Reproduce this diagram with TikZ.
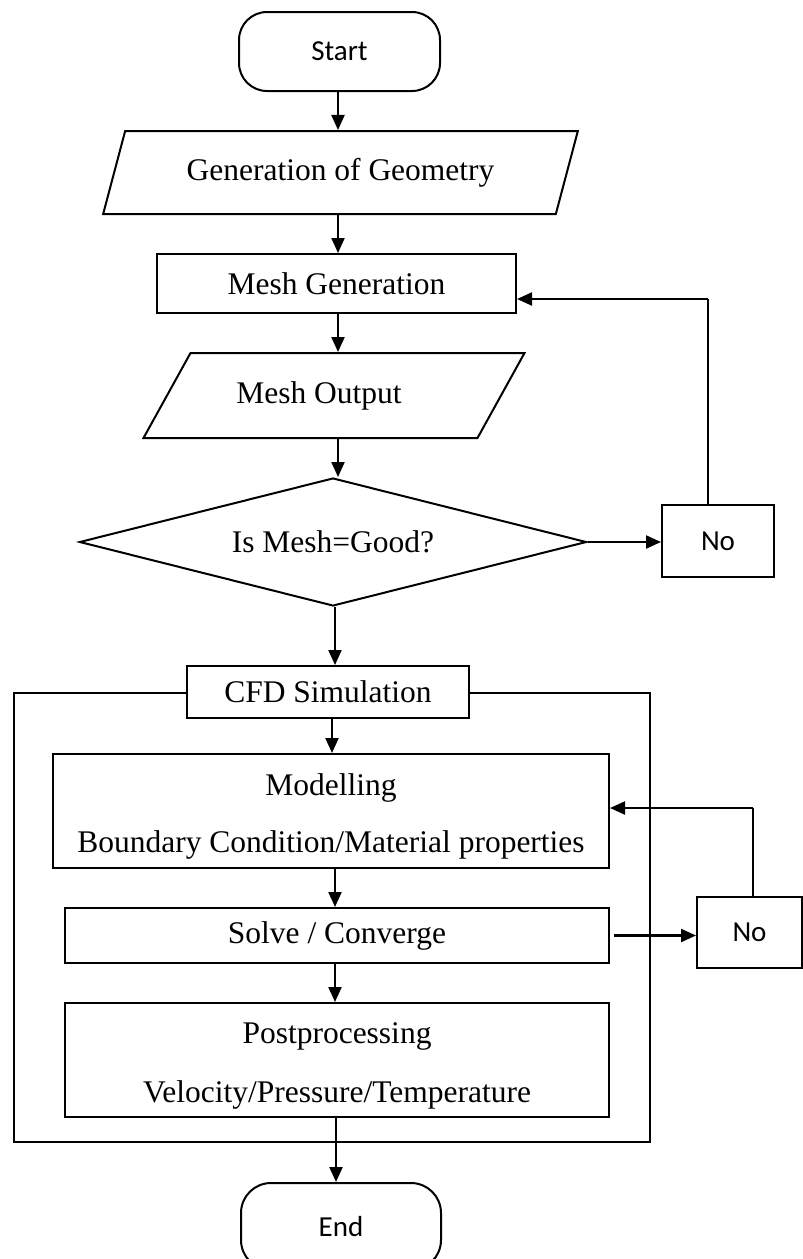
\documentclass[tikz,border=0pt]{standalone}
\usepackage{fontspec}
\setmainfont{Liberation Serif}
\newfontfamily\calib{Carlito}
\usetikzlibrary{shapes.geometric,arrows.meta,calc}
\tikzset{
  box/.style={draw, line width=2pt, fill=white, inner sep=0pt, align=center,
    font=\fontsize{31.5}{57}\selectfont},
  term/.style={draw, line width=2pt, fill=white, inner sep=0pt, rounded corners=28pt,
    font=\calib\fontsize{29}{34}\selectfont},
  nobox/.style={draw, line width=2pt, fill=white, inner sep=0pt,
    font=\calib\fontsize{29}{34}\selectfont},
  io/.style={trapezium, trapezium stretches=true, draw, line width=2pt, fill=white,
    inner sep=0pt, font=\fontsize{31.5}{57}\selectfont},
  dec/.style={diamond, draw, line width=2pt, fill=white, inner sep=0pt, shape aspect=3.96,
    font=\fontsize{31.5}{57}\selectfont},
  arr/.style={line width=2.2pt, -{Triangle[length=15pt,width=13pt]}},
  fbline/.style={line width=1.2pt},
}
\begin{document}
\begin{tikzpicture}[x=1pt,y=-1pt]
\useasboundingbox (0,0) rectangle (803,1259);
\clip (0,0) rectangle (803,1259);
% outer frame
\node[draw, line width=2pt, minimum width=636pt, minimum height=449pt, inner sep=0pt] (frame) at (332,917.5) {};
% nodes
\node[term, minimum width=201pt, minimum height=79pt] (start) at (339.5,51.5) {Start};
\node[io, trapezium left angle=61.5, trapezium right angle=118.5,
      minimum width=475pt, minimum height=83pt] (geo) at (340.5,172.5) {Generation of Geometry};
\node[box, minimum width=359pt, minimum height=59pt] (mesh) at (336.5,283.5) {Mesh Generation};
\node[io, trapezium left angle=41.75, trapezium right angle=138.25,
      minimum width=382pt, minimum height=85pt] (mout) at (334,395.5) {Mesh Output\hspace*{30pt}};
\node[dec, minimum width=507pt, minimum height=128pt] (dia) at (333,542) {Is Mesh=Good?};
\node[nobox, minimum width=112pt, minimum height=72pt] (no1) at (718,541) {No};
\node[box, minimum width=282pt, minimum height=52pt] (cfd) at (328,692) {CFD Simulation};
\node[box, minimum width=556pt, minimum height=114pt] (model) at (331,811)
  {\rule{0pt}{32pt}Modelling\\Boundary Condition/Material properties};
\node[box, minimum width=544pt, minimum height=55pt] (solve) at (337,935.5) {Solve / Converge};
\node[nobox, minimum width=105pt, minimum height=71pt] (no2) at (749.5,932.5) {No};
\node[box, minimum width=544pt, minimum height=114pt, font=\fontsize{31.5}{59}\selectfont] (post) at (337,1060)
  {\rule{0pt}{33.5pt}Postprocessing\\Velocity/Pressure/Temperature};
\node[term, minimum width=200pt, minimum height=87pt, rounded corners=30pt] (end) at (341,1226.5) {End};
% coordinates for connector columns
\coordinate (xa) at (338,0);
\coordinate (xb) at (335,0);
\coordinate (xc) at (332,0);
\coordinate (xd) at (336,0);
\coordinate (fb1) at (708,299);
\coordinate (fb2) at (753,808);
% connectors
\draw[arr] (start.south -| xa) -- (geo.north -| xa);
\draw[arr] (geo.south -| xa) -- (mesh.north -| xa);
\draw[arr] (mesh.south -| xa) -- (mout.north -| xa);
\draw[arr] (mout.south -| xa) -- (dia.north -| xa);
\draw[arr] (dia.east) -- (dia.east -| no1.west);
\draw[fbline] (no1.north -| fb1) -- (fb1);
\draw[arr] (fb1) -- (fb1 -| mesh.east);
\draw[arr] (dia.south -| xb) -- (cfd.north -| xb);
\draw[arr] (cfd.south -| xc) -- (model.north -| xc);
\draw[arr] (model.south -| xb) -- (solve.north -| xb);
\draw[arr] ([xshift=4pt]solve.east) -- (solve.east -| no2.west);
\draw[fbline] (no2.north -| fb2) -- (fb2);
\draw[arr] (fb2) -- (fb2 -| model.east);
\draw[arr] (solve.south -| xb) -- (post.north -| xb);
\draw[arr] (post.south -| xd) -- (end.north -| xd);
\end{tikzpicture}
\end{document}
